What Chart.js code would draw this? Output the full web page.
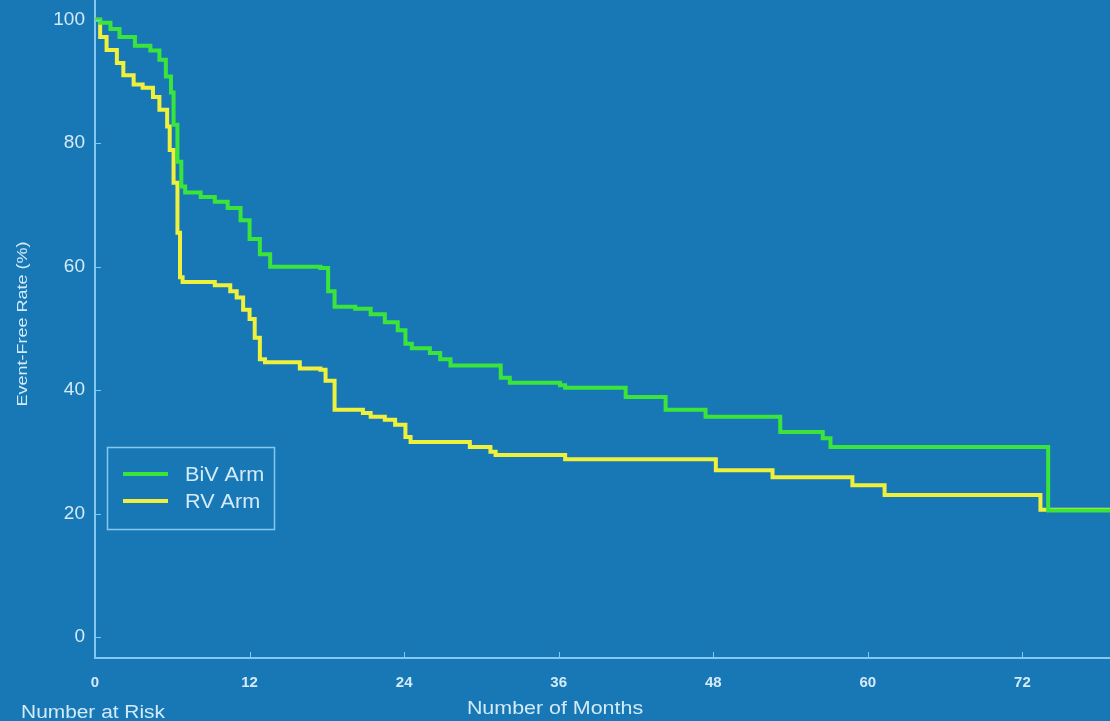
<!DOCTYPE html>
<html>
<head>
<meta charset="utf-8">
<script src="https://cdn.jsdelivr.net/npm/chart.js@4"></script>
<style>
html,body{margin:0;padding:0;background:#1878b5;}
#wrap{width:1110px;height:721px;position:relative;}
</style>
</head>
<body>
<div id="wrap"><canvas id="c" width="1110" height="721"></canvas></div>
<script>
// ---- data ----
const seriesNames = ["BiV Arm", "RV Arm"];
const bivMonths = [0,0.4,1.2,1.9,3.1,4.3,5.0,5.5,5.9,6.1,6.4,6.7,7.0,8.2,9.3,10.3,11.3,12.0,12.8,13.6,15.1,17.5,18.1,18.6,20.2,21.4,22.5,23.5,24.1,24.6,26.0,26.8,27.6,30.7,31.5,32.2,36.1,36.5,40.4,41.2,43.5,44.3,46.8,47.4,52.4,53.2,55.9,56.5,57.1,74.0,74.0,78.8];
const bivRates  = [100,99.5,98.5,97.2,95.8,95,93.5,90.8,88.2,83,77,73,72,71.3,70.5,69.5,67.5,64.5,62,60,60,59.8,56,53.5,53.2,52.3,51,49.7,47.5,46.8,46,45,44,44,42,41.2,40.8,40.4,40.4,38.9,38.9,36.8,36.8,35.7,35.7,33.2,33.2,32.2,30.8,30.8,20.5,20.5];
const rvMonths  = [0,0.4,0.9,1.7,2.2,3.0,3.7,4.5,5.0,5.6,5.8,6.1,6.4,6.6,6.8,9.3,10.5,11.0,11.5,12.0,12.4,12.8,13.2,15.4,15.9,17.5,17.9,18.6,20.8,21.4,22.5,23.3,24.1,24.5,28.3,29.1,30.7,31.1,36.1,36.5,47.4,48.2,52.3,52.6,58.5,58.8,61.0,61.3,73.2,73.4,78.8];
const rvRates   = [100,97.2,95.1,93,91,89.5,89,87.5,85.4,82.7,78.9,73.6,65.5,58.3,57.5,57,56,55,53,51.5,48.5,45,44.5,44.5,43.5,43.3,41.5,36.8,36.3,35.7,35.2,34.4,32.4,31.6,31.6,30.8,30,29.5,29.5,28.8,28.8,27,27,25.9,25.9,24.6,24.6,23,23,20.6,20.6];
const xTicks = [0,12,24,36,48,60,72];
const yTicks = [0,20,40,60,80,100];
const yTitle = "Event-Free Rate (%)";
const xTitle = "Number of Months";
const riskTitle = "Number at Risk";

const BG = '#1878b5';
const AXIS = '#82c8f0';
const TXT = '#d3eaf8';
const colors = ['#3be43b', '#eef03c'];

function pts(xs, ys){ return xs.map((x,i)=>({x:x, y:ys[i]})); }

const bgPlugin = {
  id:'bg',
  beforeDraw(chart){
    const ctx = chart.ctx;
    ctx.save(); ctx.fillStyle = BG; ctx.fillRect(0,0,chart.width,chart.height); ctx.restore();
  }
};

function stretchedText(ctx, text, x, y, sx){
  ctx.save(); ctx.translate(x, y); ctx.scale(sx, 1); ctx.fillText(text, 0, 0); ctx.restore();
}

const decoPlugin = {
  id:'deco',
  afterDraw(chart){
    const ctx = chart.ctx;
    const xs = chart.scales.x, ys = chart.scales.y;
    const ca = chart.chartArea;
    ctx.save();
    // inner tick marks
    ctx.strokeStyle = AXIS; ctx.lineWidth = 1;
    xTicks.forEach(v=>{ const px = Math.round(xs.getPixelForValue(v))+0.5; ctx.beginPath(); ctx.moveTo(px, ca.bottom); ctx.lineTo(px, ca.bottom-6); ctx.stroke(); });
    yTicks.forEach(v=>{ const py = Math.round(ys.getPixelForValue(v))+0.5; ctx.beginPath(); ctx.moveTo(ca.left, py); ctx.lineTo(ca.left+6, py); ctx.stroke(); });
    // titles
    ctx.fillStyle = TXT;
    ctx.textBaseline = 'middle';
    ctx.textAlign = 'center';
    ctx.font = '18px "Liberation Sans", Arial, sans-serif';
    stretchedText(ctx, xTitle, 555, 709, 1.19);
    stretchedText(ctx, riskTitle, 93, 713, 1.16);
    ctx.save();
    ctx.translate(23, 324); ctx.rotate(-Math.PI/2); ctx.scale(1.2, 1);
    ctx.font = '15px "Liberation Sans", Arial, sans-serif';
    ctx.fillText(yTitle, 0, 0);
    ctx.restore();
    // legend
    ctx.strokeStyle = AXIS; ctx.lineWidth = 1.5;
    ctx.strokeRect(107.5, 447.5, 167, 82);
    ctx.font = '20px "Liberation Sans", Arial, sans-serif';
    ctx.textAlign = 'left';
    chart.data.datasets.forEach((ds,i)=>{
      const y = 474 + i*27;
      ctx.strokeStyle = ds.borderColor; ctx.lineWidth = 4;
      ctx.beginPath(); ctx.moveTo(123, y); ctx.lineTo(168, y); ctx.stroke();
      ctx.fillStyle = TXT;
      stretchedText(ctx, ds.label, 185, y+1, 1.08);
    });
    ctx.restore();
  }
};

new Chart(document.getElementById('c'), {
  type:'line',
  data:{
    datasets:[
      {label:seriesNames[0], data:pts(bivMonths,bivRates), borderColor:colors[0], borderWidth:4, pointRadius:0, stepped:'before', fill:false, order:1},
      {label:seriesNames[1], data:pts(rvMonths,rvRates), borderColor:colors[1], borderWidth:4, pointRadius:0, stepped:'before', fill:false, order:2}
    ]
  },
  options:{
    responsive:false,
    animation:false,
    layout:{padding:0},
    plugins:{legend:{display:false}, tooltip:{enabled:false}},
    scales:{
      x:{
        type:'linear', min:0, max:78.8,
        grid:{display:false, drawTicks:false},
        border:{display:true, color:AXIS, width:2},
        afterBuildTicks(s){ s.ticks = xTicks.map(v=>({value:v})); },
        afterFit(s){ s.height = 63; s.paddingLeft = 0; s.paddingRight = 0; },
        ticks:{color:TXT, padding:16, maxRotation:0, font:{family:'"Liberation Sans Narrow", "Liberation Sans", Arial', size:15, weight:'bold'}}
      },
      y:{
        type:'linear', min:-3.4, max:103.2,
        grid:{display:false, drawTicks:false},
        border:{display:true, color:AXIS, width:2},
        afterBuildTicks(s){ s.ticks = yTicks.map(v=>({value:v})); },
        afterFit(s){ s.width = 95; s.paddingTop = 0; s.paddingBottom = 0; },
        ticks:{color:TXT, padding:10, font:{family:'"Liberation Sans", Arial', size:19}}
      }
    }
  },
  plugins:[bgPlugin, decoPlugin]
});
</script>
</body>
</html>
